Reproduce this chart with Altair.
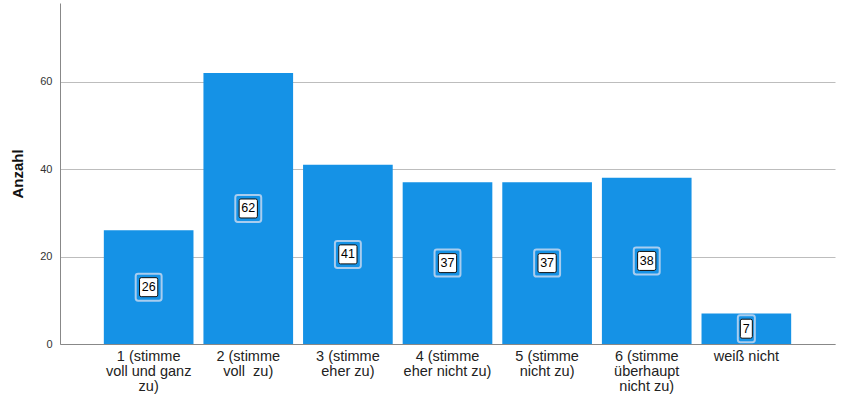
import altair as alt
import pandas as pd

categories = [
    "1 (stimme|voll und ganz|zu)",
    "2 (stimme|voll\u00a0 zu)",
    "3 (stimme|eher zu)",
    "4 (stimme|eher nicht zu)",
    "5 (stimme|nicht zu)",
    "6 (stimme|überhaupt|nicht zu)",
    "weiß nicht",
]
counts = [26, 62, 41, 37, 37, 38, 7]

df = pd.DataFrame({"cat": categories, "n": counts})
df["mid"] = df["n"] / 2
df["digits"] = df["n"].astype(str).str.len().astype(str)

BAR = "#1592e6"
FONT = "Liberation Sans"

x = alt.X(
    "cat:N",
    sort=categories,
    title=None,
    scale=alt.Scale(paddingInner=0.1, paddingOuter=0.44),
    axis=alt.Axis(
        labelExpr="split(datum.value, '|')",
        labelAngle=0,
        labelFont=FONT,
        labelFontSize=14.5,
        labelColor="#222222",
        labelLineHeight=15,
        labelPadding=5,
        ticks=False,
        domainColor="#888888",
        labelLimit=200,
    ),
)

y_scale = alt.Scale(domain=[0, 78], nice=False)

bars = alt.Chart(df).mark_bar(color=BAR).encode(
    x=x,
    y=alt.Y(
        "n:Q",
        scale=y_scale,
        title="Anzahl",
        axis=alt.Axis(
            values=[0, 20, 40, 60],
            ticks=False,
            grid=True,
            gridColor="#bdbdbd",
            domainColor="#888888",
            labelFont=FONT,
            labelFontSize=11,
            labelColor="#333333",
            labelPadding=8,
            titleFont=FONT,
            titleFontSize=15,
            titleFontWeight="bold",
            titleColor="#111111",
            titlePadding=14,
        ),
    ),
)

outer_paths = [
    "M-0.45,-1H0.45Q0.63,-1 0.63,-0.82V0.82Q0.63,1 0.45,1H-0.45Q-0.63,1 -0.63,0.82V-0.82Q-0.63,-1 -0.45,-1Z",
    "M-0.78,-1H0.78Q0.96,-1 0.96,-0.82V0.82Q0.96,1 0.78,1H-0.78Q-0.96,1 -0.96,0.82V-0.82Q-0.96,-1 -0.78,-1Z",
]
inner_paths = [
    "M-0.63,-1H0.63V1H-0.63Z",
    "M-0.84,-1H0.84V1H-0.84Z",
]

outer = alt.Chart(df).mark_point(filled=False, stroke="#a9cdef", strokeWidth=2, opacity=1).encode(
    x=alt.X("cat:N", sort=categories),
    y=alt.Y("mid:Q", scale=y_scale),
    shape=alt.Shape("digits:N", scale=alt.Scale(domain=["1", "2"], range=outer_paths), legend=None),
    size=alt.value(729),
)

inner = alt.Chart(df).mark_point(filled=True, fill="white", stroke="#111111", strokeWidth=1, opacity=1).encode(
    x=alt.X("cat:N", sort=categories),
    y=alt.Y("mid:Q", scale=y_scale),
    shape=alt.Shape("digits:N", scale=alt.Scale(domain=["1", "2"], range=inner_paths), legend=None),
    size=alt.value(361),
)

text = alt.Chart(df).mark_text(font=FONT, fontSize=12.5, color="#000000", baseline="middle", align="center").encode(
    x=alt.X("cat:N", sort=categories),
    y=alt.Y("mid:Q", scale=y_scale),
    text="n:Q",
)

chart = (
    alt.layer(bars, outer, inner, text)
    .properties(
        width=775,
        height=341,
        background="white",
        autosize=alt.AutoSizeParams(type="none"),
        padding={"left": 60, "top": 3, "right": 6, "bottom": 69},
    )
    .configure_view(strokeWidth=0, stroke=None)
)

chart.save("out.html", embed_options={"renderer": "svg", "actions": False})
